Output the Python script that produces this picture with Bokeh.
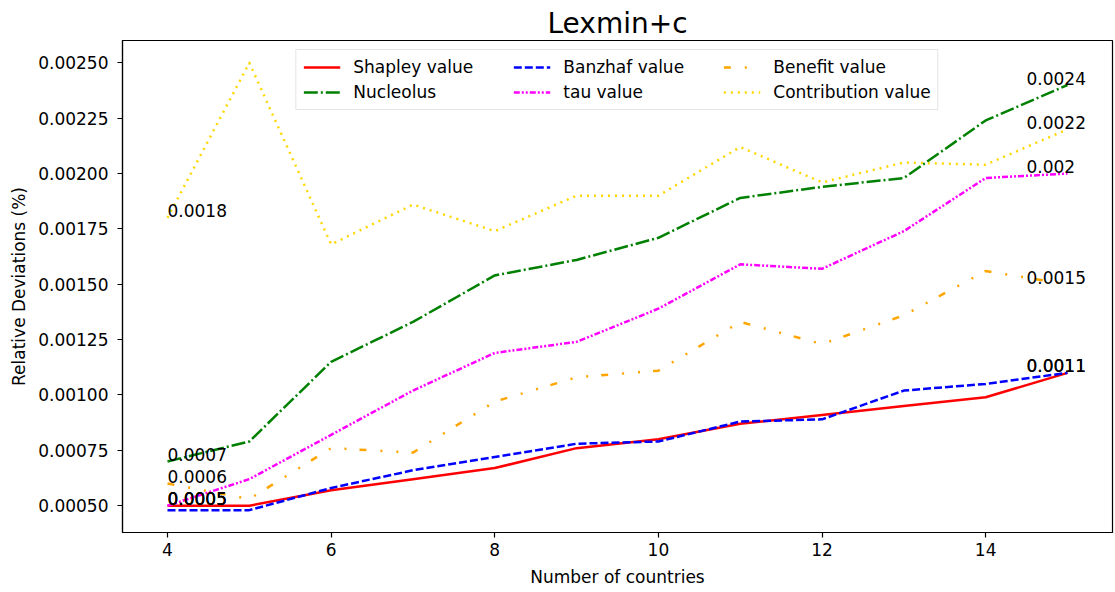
from bokeh.plotting import figure
from bokeh.models import (Range1d, FixedTicker, PrintfTickFormatter, Legend,
                          LegendItem, ColumnDataSource)
from bokeh.core.properties import value
from bokeh.embed import file_html
from bokeh.resources import INLINE

# Number of countries in the coalition
countries = [4, 5, 6, 7, 8, 9, 10, 11, 12, 13, 14, 15]

# Relative deviations (%) for each allocation rule
shapley = [0.0005, 0.0005, 0.00057, 0.00062, 0.00067, 0.00076, 0.0008,
           0.00087, 0.00091, 0.00095, 0.00099, 0.0011]
nucleolus = [0.0007, 0.00079, 0.00115, 0.00133, 0.00154, 0.00161, 0.00171,
             0.00189, 0.00194, 0.00198, 0.00224, 0.0024]
banzhaf = [0.00048, 0.00048, 0.00058, 0.00066, 0.00072, 0.00078, 0.00079,
           0.00088, 0.00089, 0.00102, 0.00105, 0.0011]
tau = [0.0005, 0.00062, 0.00082, 0.00102, 0.00119, 0.00124, 0.00139,
       0.00159, 0.00157, 0.00174, 0.00198, 0.002]
benefit = [0.0006, 0.00053, 0.00076, 0.00074, 0.00097, 0.00108, 0.00111,
           0.00133, 0.00123, 0.00136, 0.00156, 0.0015]
contribution = [0.0018, 0.0025, 0.00168, 0.00186, 0.00174, 0.0019, 0.0019,
                0.00212, 0.00196, 0.00205, 0.00204, 0.0022]

x_ticks = [4, 6, 8, 10, 12, 14]
y_ticks = [0.0005, 0.00075, 0.001, 0.00125, 0.0015, 0.00175, 0.002,
           0.00225, 0.0025]

series = [
    ("Shapley value", shapley, "#ff0000", "solid"),
    ("Nucleolus", nucleolus, "#008000", "14 3 2 3"),
    ("Banzhaf value", banzhaf, "#0000ff", "8 3"),
    ("tau value", tau, "#ff00ff", "6 2 2 2 2 2"),
    ("Benefit value", benefit, "#ffa500", "7 14 2 14 2 13"),
    ("Contribution value", contribution, "#ffd700", "2 5"),
]

FONT = "DejaVu Sans"

all_vals = [v for _, s, _, _ in series for v in s]
lo, hi = min(all_vals), max(all_vals)
ypad = 0.05 * (hi - lo)
xpad = 0.05 * (countries[-1] - countries[0])

p = figure(width=1115, height=592, output_backend="svg", toolbar_location=None,
           x_range=Range1d(countries[0] - xpad, countries[-1] + xpad),
           y_range=Range1d(lo - ypad, hi + ypad),
           min_border_left=122, min_border_right=3, min_border_top=40,
           min_border_bottom=60)

p.title.text = "Lexmin+c"
p.title.align = "center"
p.title.text_font = FONT
p.title.text_font_size = "28px"
p.title.text_font_style = "normal"
p.title.text_color = "black"
p.title.standoff = 2
p.title.offset = 0

p.xgrid.visible = False
p.ygrid.visible = False
p.outline_line_color = "black"
p.outline_line_width = 1.2
p.outline_line_alpha = 1.0
p.background_fill_color = "white"
p.border_fill_color = "white"

for ax in (p.xaxis[0], p.yaxis[0]):
    ax.axis_line_color = "black"
    ax.axis_line_width = 1.2
    ax.major_tick_line_color = "black"
    ax.major_tick_line_width = 1.2
    ax.major_tick_out = 5
    ax.major_tick_in = 0
    ax.minor_tick_line_color = None
    ax.major_label_text_font = FONT
    ax.major_label_text_font_size = "17px"
    ax.major_label_text_color = "black"
    ax.axis_label_text_font = FONT
    ax.axis_label_text_font_size = "17px"
    ax.axis_label_text_font_style = "normal"
    ax.axis_label_text_color = "black"

p.xaxis.ticker = FixedTicker(ticks=x_ticks)
p.yaxis.ticker = FixedTicker(ticks=y_ticks)
p.yaxis.formatter = PrintfTickFormatter(format="%.5f")
p.xaxis.axis_label = "Number of countries"
p.yaxis.axis_label = "Relative Deviations (%)"
p.xaxis.major_label_standoff = 5
p.yaxis.major_label_standoff = 9
p.xaxis.axis_label_standoff = 8
p.yaxis.axis_label_standoff = 6

items = []
for name, vals, color, dash in series:
    r = p.line(countries, vals, line_color=color, line_width=2.5,
               line_dash=dash, line_join="round")
    items.append(LegendItem(label=name, renderers=[r]))

# rounded value labels at the first and last point of every series
first_vals = [round(s[0], 4) for _, s, _, _ in series]
last_vals = [round(s[-1], 4) for _, s, _, _ in series]
first_src = ColumnDataSource(data=dict(
    x=[countries[0]] * len(series), y=first_vals,
    t=[f"{v:g}" for v in first_vals]))
last_src = ColumnDataSource(data=dict(
    x=[countries[-1]] * len(series), y=last_vals,
    t=[f"{v:g}" for v in last_vals]))

p.text(x="x", y="y", text="t", source=first_src, text_font=value(FONT),
       text_font_size="17px", text_color="black", text_align="left",
       text_baseline="alphabetic", y_offset=-7)
p.text(x="x", y="y", text="t", source=last_src, text_font=value(FONT),
       text_font_size="17px", text_color="black", text_align="left",
       text_baseline="alphabetic", x_offset=-41, y_offset=-7)

legend = Legend(items=items, location="top_center", orientation="vertical",
                nrows=2, margin=9, padding=7, spacing=5,
                glyph_width=37, glyph_height=20, label_standoff=13,
                label_width=155, label_height=20,
                label_text_font=FONT, label_text_font_size="17px",
                label_text_color="black",
                border_line_color="#cccccc", border_line_width=1.2,
                background_fill_color="white", background_fill_alpha=0.8)
p.add_layout(legend)

open("out.html", "w").write(file_html(p, INLINE))
